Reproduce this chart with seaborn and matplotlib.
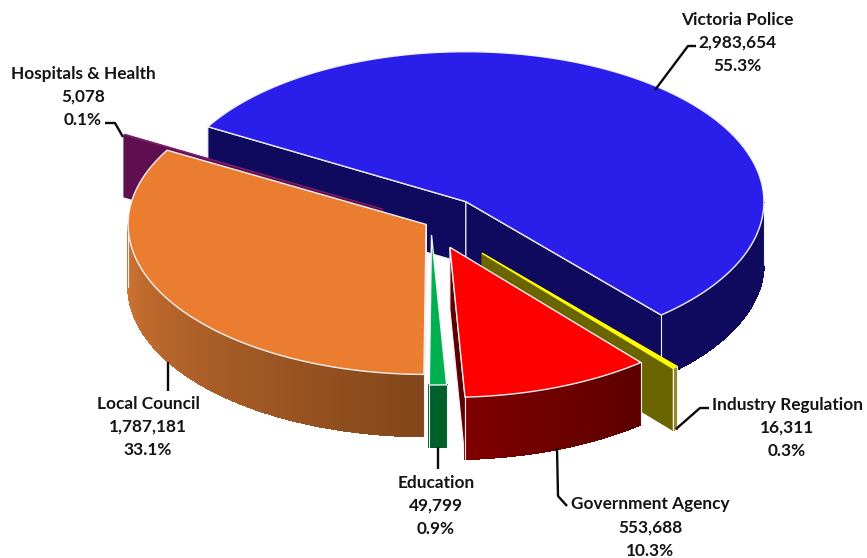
import numpy as np
import matplotlib
matplotlib.use("Agg")
import matplotlib.pyplot as plt
from matplotlib.collections import PolyCollection
import seaborn as sns

# data
categories = ["Victoria Police", "Industry Regulation", "Government Agency",
              "Education", "Local Council", "Hospitals & Health"]
values = [2983654, 16311, 553688, 49799, 1787181, 5078]
percents = ["55.3%", "0.3%", "10.3%", "0.9%", "33.1%", "0.1%"]

# style, in slice order
explode = [0.184, 0.264, 0.174, 0.08, 0.019, 0.186]
top_colors = ["#2A1EEA", "#FFFF00", "#FF0000", "#00B050", "#EB7D31", "#7F1F6A"]
face_colors = ["#100A5E", "#6B6500", "#5C0000", "#00602A", "#84481A", "#5F0F4F"]
wall_from = ["#100A5E", "#8F8A20", "#7E0000", "#00602A", "#CF7433", "#5F0F4F"]
wall_to = ["#100A5E", "#8F8A20", "#5C0000", "#00602A", "#82461A", "#5F0F4F"]
EDGE = "#F2F0F4"
top_edges = [EDGE, "#FFFF00", EDGE, EDGE, EDGE, "#7F1F6A"]
top_widths = [1.0, 1.0, 1.0, 1.0, 1.0, 0.6]
label_pos = [(737, 20), (787, 405), (650, 504.5), (436, 483), (148, 404), (83, 74)]
leaders = [
    [(655, 90), (688, 46), (696, 46)],
    [(676, 429), (700, 408), (709, 408)],
    [(557, 448), (558, 496), (567, 506)],
    [(438, 447), (438, 469)],
    [(168, 362), (168, 391)],
    [(123, 137), (115, 123), (105, 123)],
]

CX, CY = 431, 223
RX, RY = 298, 150
DEPTH = 62
START = 150

sns.set_theme(style="white")
plt.rcParams["font.family"] = ["Lato", "DejaVu Sans"]

fig, ax = plt.subplots(figsize=(8.67, 5.58), dpi=100)
ax.set_position([0, 0, 1, 1])
ax.set_xlim(0, 867)
ax.set_ylim(558, 0)
ax.axis("off")


def rim(ax_x, ax_y, t):
    r = np.radians(t)
    return ax_x + RX * np.cos(r), ax_y - RY * np.sin(r)


def draw_slice(i, t0, t1, z):
    mid = (t0 + t1) / 2
    dx, dy = rim(0, 0, mid)
    ox, oy = CX + explode[i] * dx, CY + explode[i] * dy
    thin = values[i] < 20000

    # cut faces that turn towards the viewer
    for t, normal in ((t0, t0 + 90), (t1, t1 - 90)):
        if np.sin(np.radians(normal)) < 0:
            x, y = rim(ox, oy, t)
            ax.fill([ox, x, x, ox], [oy, y, y + DEPTH, oy + DEPTH],
                    facecolor=face_colors[i], edgecolor=face_colors[i] if thin else EDGE,
                    lw=0.8, zorder=z)

    # outer wall, only the front half shows
    ts = np.linspace(t0, t1, 120)
    ts = ts[np.sin(np.radians(ts)) <= 0]
    if len(ts) > 1:
        xs, ys = rim(ox, oy, ts)
        quads = [[(xs[k], ys[k]), (xs[k + 1], ys[k + 1]),
                  (xs[k + 1], ys[k + 1] + DEPTH), (xs[k], ys[k] + DEPTH)]
                 for k in range(len(ts) - 1)]
        # gradient runs left to right across the wall
        pal = sns.blend_palette([wall_from[i], wall_to[i]], len(quads))
        if xs[0] > xs[-1]:
            pal = pal[::-1]
        ax.add_collection(PolyCollection(quads, facecolors=pal, edgecolors=pal,
                                         linewidths=0.6, antialiaseds=False, zorder=z))
        ax.plot([xs[0], xs[0]], [ys[0], ys[0] + DEPTH], color=EDGE, lw=0.8, zorder=z)
        ax.plot([xs[-1], xs[-1]], [ys[-1], ys[-1] + DEPTH], color=EDGE, lw=0.8, zorder=z)

    # top of the slice
    ts = np.linspace(t0, t1, 200)
    xs, ys = rim(ox, oy, ts)
    ax.fill(np.r_[ox, xs], np.r_[oy, ys], facecolor=top_colors[i],
            edgecolor=top_edges[i], lw=top_widths[i], zorder=z)


angles = START - np.cumsum([0] + values) / sum(values) * 360
for z, i in enumerate([0, 1, 5, 4, 3, 2], start=1):
    draw_slice(i, angles[i], angles[i + 1], z)

for pts in leaders:
    ax.plot(*zip(*pts), color="#0A0A0A", lw=1.7, solid_capstyle="butt", zorder=10)

for name, val, pct, (x, y) in zip(categories, values, percents, label_pos):
    for k, line in enumerate([name, f"{val:,}", pct]):
        ax.text(x, y + k * 23, line, ha="center", va="center",
                fontsize=12.4, fontweight="bold", color="#141414", zorder=11)

fig.savefig("out.png", dpi=100)
